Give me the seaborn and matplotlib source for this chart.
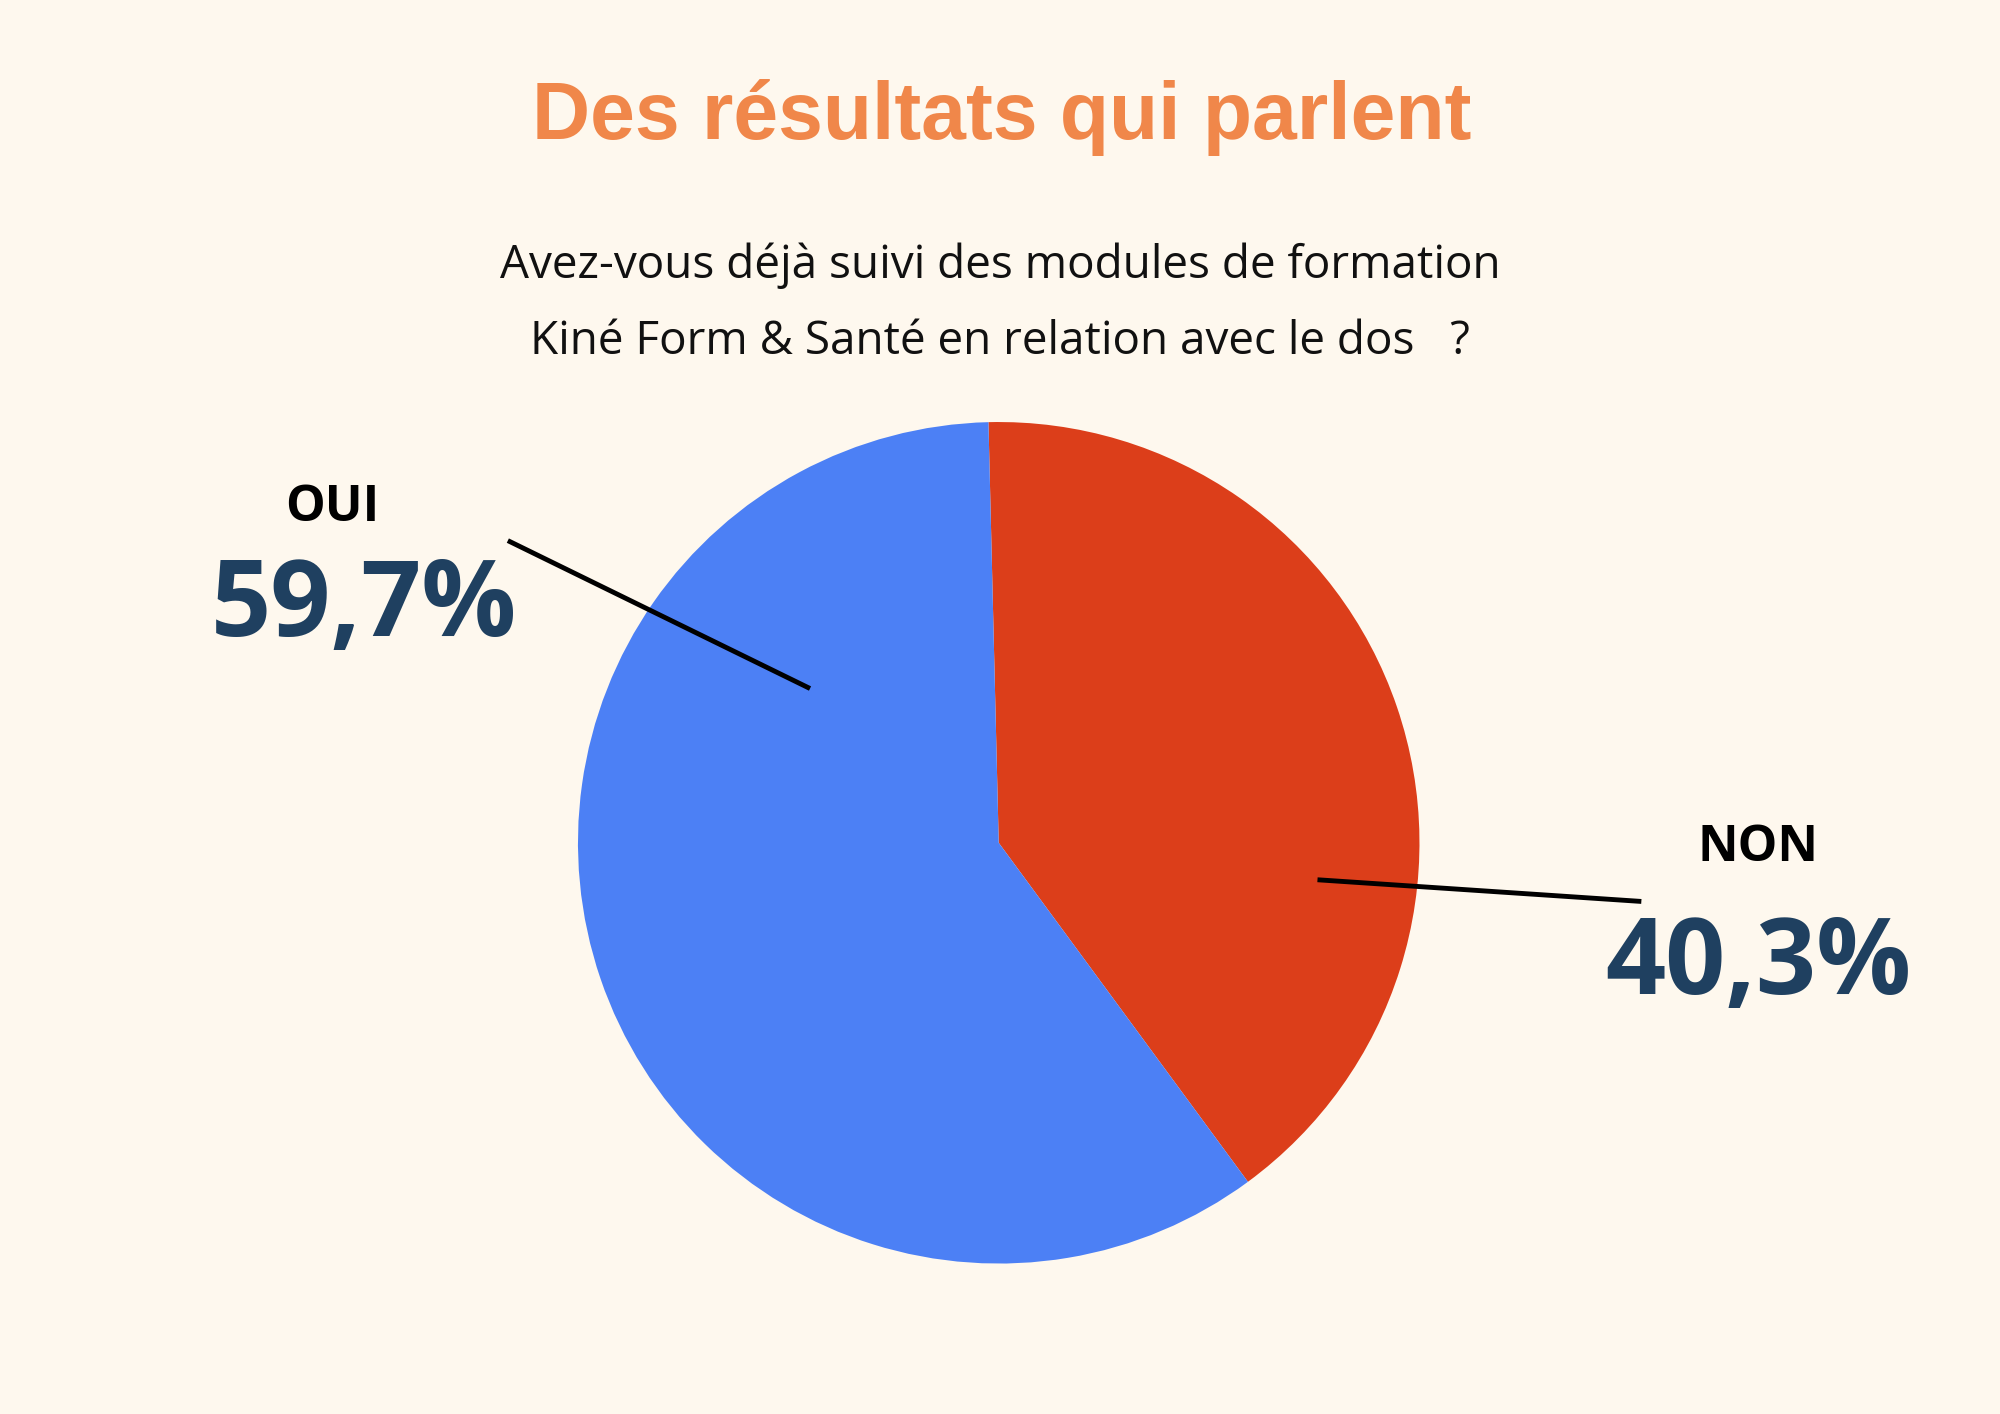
import matplotlib
matplotlib.use("Agg")
import matplotlib.pyplot as plt
import seaborn as sns

sns.set_theme(style="white")
plt.rcParams['font.family'] = ['Open Sans', 'DejaVu Sans']

# data
labels = ['NON', 'OUI']
values = [40.3, 59.7]
colors = ['#DC3E1A', '#4C80F5']
pct_text = ['40,3%', '59,7%']

bg = '#FEF8EE'
fig = plt.figure(figsize=(20, 14.14), dpi=100, facecolor=bg)
ax = fig.add_axes([0, 0, 1, 1])
ax.set_facecolor(bg)
W, H = 1568, 1109
ax.set_xlim(0, W)
ax.set_ylim(0, H)
ax.axis('off')

ax.pie(values, colors=colors, startangle=91.4, counterclock=False,
       center=(783, H - 661), radius=330, frame=True,
       wedgeprops=dict(linewidth=0))
ax.set_xlim(0, W)
ax.set_ylim(0, H)
ax.set_aspect('equal')
ax.axis('off')

# leader lines
ax.plot([398, 635], [H - 424, H - 540], color='black', lw=3.5, solid_capstyle='butt')
ax.plot([1033, 1287], [H - 690, H - 707], color='black', lw=3.5, solid_capstyle='butt')

fig.text(0.5006, 0.917, 'Des résultats qui parlent', ha='center', va='center',
         fontsize=58, fontweight='bold', color='#F0874A', family='Liberation Sans')
fig.text(0.5, 0.8124, 'Avez-vous déjà suivi des modules de formation',
         ha='center', va='center', fontsize=33, color='#111111')
fig.text(0.5, 0.758, 'Kiné Form & Santé en relation avec le dos   ?',
         ha='center', va='center', fontsize=33, color='#111111')

fig.text(0.166, 0.641, labels[1], ha='center', va='center', fontsize=36,
         fontweight='bold', color='black')
fig.text(0.182, 0.570, pct_text[1], ha='center', va='center', fontsize=76,
         fontweight='bold', color='#1F4060')
fig.text(0.879, 0.400, labels[0], ha='center', va='center', fontsize=36,
         fontweight='bold', color='black')
fig.text(0.879, 0.317, pct_text[0], ha='center', va='center', fontsize=76,
         fontweight='bold', color='#1F4060')

fig.savefig('out.png', dpi=100, facecolor=bg)
